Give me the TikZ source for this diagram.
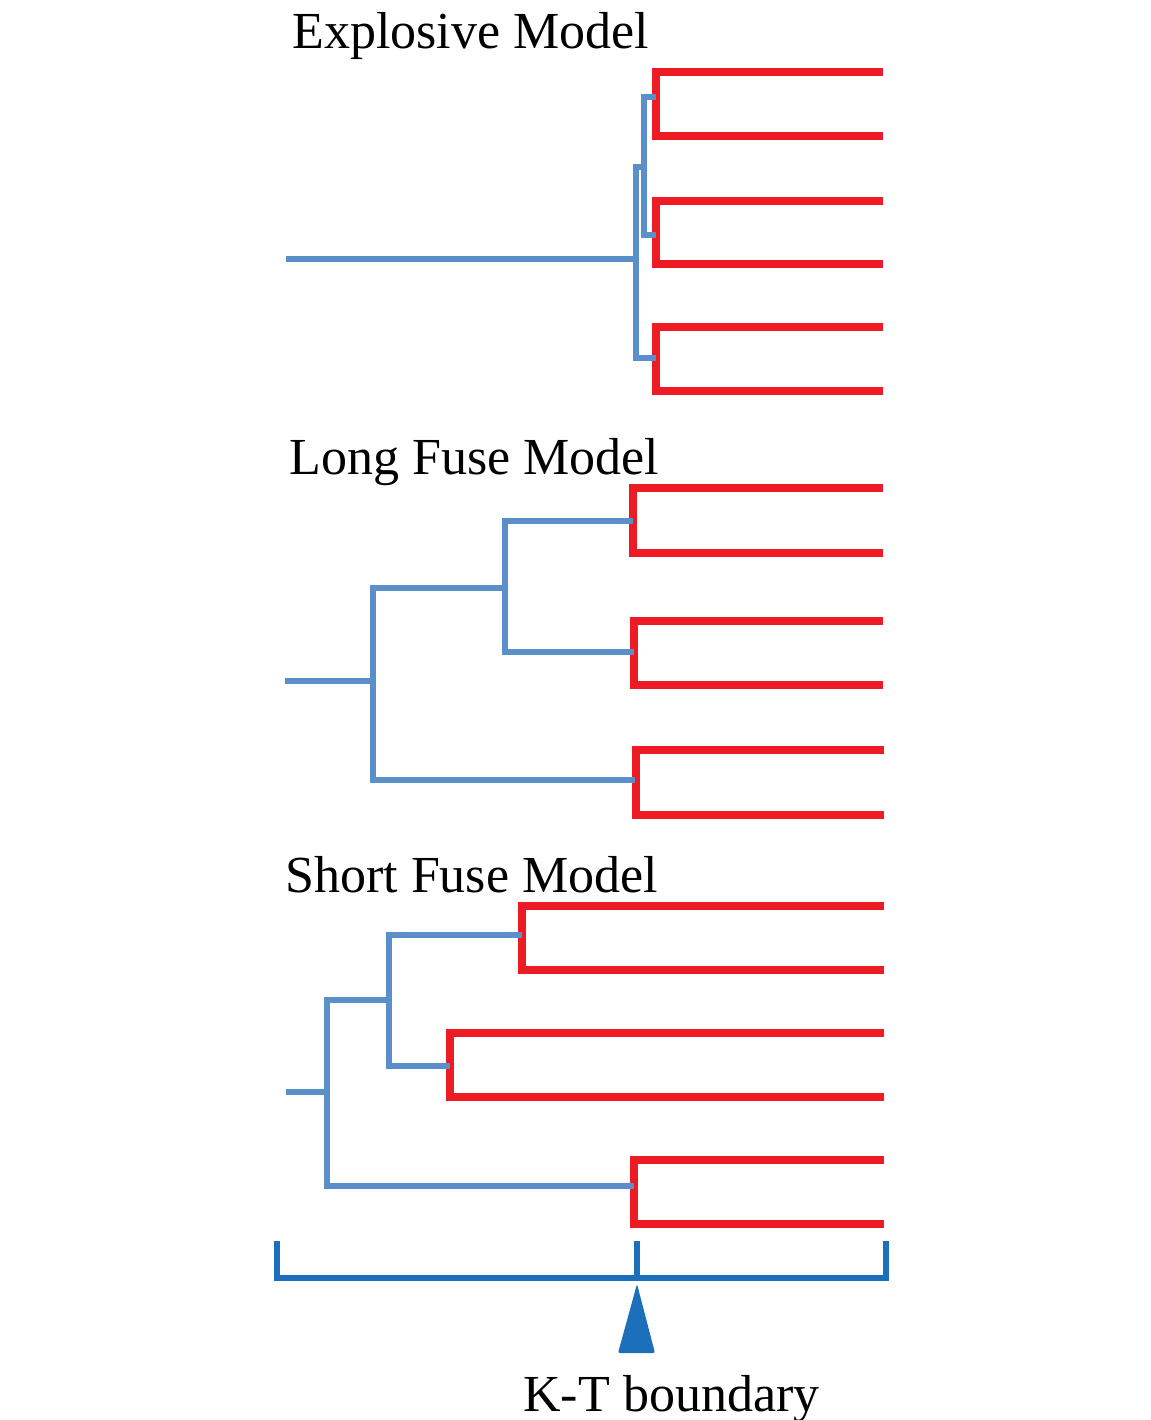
\documentclass[tikz,border=0pt]{standalone}
\usepackage{fontspec}
\setmainfont{Liberation Serif}
\definecolor{branchblue}{RGB}{91,143,201}
\definecolor{tipred}{RGB}{237,28,36}
\definecolor{axisblue}{RGB}{28,112,187}
\begin{document}
\begin{tikzpicture}[x=0.5pt,y=-0.5pt,
  branch/.style={draw=branchblue,line width=3.4pt,line join=miter},
  tips/.style={draw=tipred,line width=3.8pt,line join=miter},
  axisline/.style={draw=axisblue,line width=3.2pt},
  title/.style={anchor=base west,inner sep=0pt,font=\fontsize{26pt}{30pt}\selectfont}]
\useasboundingbox[fill=white] (0,0) rectangle (1151,1420);
% titles
\node[title] (t1) at (292,48) {Explosive Model};
\node[title] (t2) at (289,474) {Long Fuse Model};
\node[title] (t3) at (285,892) {Short Fuse Model};
\node[title] (t4) at (523,1411) {K-T boundary};
% Explosive model
\draw[tips] (883,72)--(656,72)--(656,136)--(883,136);
\draw[tips] (883,201)--(656,201)--(656,264)--(883,264);
\draw[tips] (883,327)--(656,327)--(656,391)--(883,391);
\draw[branch] (286,259)--(636,259);
\draw[branch] (656,358)--(636,358)--(636,167)--(644,167);
\draw[branch] (656,97)--(644,97)--(644,235)--(656,235);
% Long fuse model
\draw[tips] (883,488)--(633,488)--(633,553)--(883,553);
\draw[tips] (883,621)--(634,621)--(634,685)--(883,685);
\draw[tips] (884,750)--(636,750)--(636,815)--(884,815);
\draw[branch] (285,681)--(373,681);
\draw[branch] (635,780)--(373,780)--(373,588)--(505,588);
\draw[branch] (633,521)--(505,521)--(505,652)--(634,652);
% Short fuse model
\draw[tips] (884,906)--(522,906)--(522,970)--(884,970);
\draw[tips] (884,1033)--(450,1033)--(450,1097)--(884,1097);
\draw[tips] (884,1160)--(634,1160)--(634,1224)--(884,1224);
\draw[branch] (286,1092)--(327,1092);
\draw[branch] (634,1186)--(327,1186)--(327,1000)--(389,1000);
\draw[branch] (522,935)--(389,935)--(389,1066)--(450,1066);
% time axis
\draw[axisline] (277,1241)--(277,1278)--(886,1278)--(886,1241);
\draw[axisline] (637,1241)--(637,1278);
\fill[axisblue,rounded corners=1pt] (637,1284)--(655,1353)--(618,1353)--cycle;
\end{tikzpicture}
\end{document}
